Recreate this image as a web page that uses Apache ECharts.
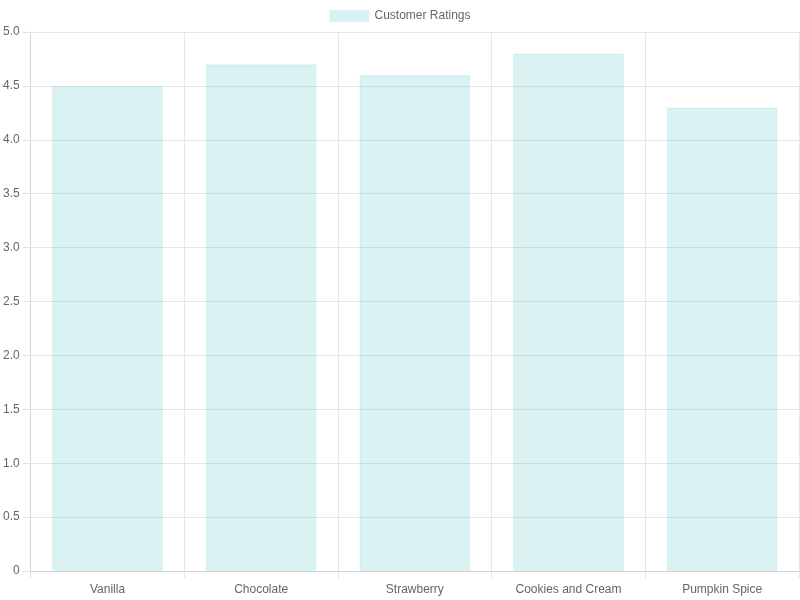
<!DOCTYPE html>
<html>
<head>
<meta charset="utf-8"/>
<title>Customer Ratings</title>
<script src="https://cdn.jsdelivr.net/npm/echarts@6/dist/echarts.min.js"></script>
<style>
html,body{margin:0;padding:0;background:#fff;}
#main{width:800px;height:600px;}
</style>
</head>
<body>
<div id="main"></div>
<script type="text/javascript">
var flavors = ['Vanilla', 'Chocolate', 'Strawberry', 'Cookies and Cream', 'Pumpkin Spice'];
var ratings = [4.5, 4.7, 4.6, 4.8, 4.3];

var myChart = echarts.init(document.getElementById('main'));
var font = 'Liberation Sans, Arial, sans-serif';
var option = {
    animation: false,
    textStyle: { fontFamily: font },
    legend: {
        top: 10,
        left: 'center',
        padding: 0,
        icon: 'rect',
        itemWidth: 40,
        itemHeight: 12,
        itemGap: 10,
        itemStyle: { borderWidth: 0 },
        textStyle: { color: '#666', fontSize: 12, fontFamily: font },
        data: ['Customer Ratings']
    },
    grid: {
        left: 30,
        right: 1,
        top: 32,
        bottom: 29,
        containLabel: false
    },
    xAxis: {
        type: 'category',
        data: flavors,
        axisLine: { lineStyle: { color: '#d4d4d4' } },
        axisTick: { show: true, length: 7, lineStyle: { color: '#e3e3e3' } },
        axisLabel: { color: '#666', fontSize: 12, margin: 13, fontFamily: font },
        splitLine: { show: true, lineStyle: { color: '#e6e6e6' } }
    },
    yAxis: {
        type: 'value',
        min: 0,
        max: 5,
        interval: 0.5,
        axisLine: { show: true, lineStyle: { color: '#d4d4d4' } },
        axisTick: { show: true, length: 8, lineStyle: { color: '#e3e3e3' } },
        axisLabel: {
            color: '#666', fontSize: 12, margin: 11, fontFamily: font,
            formatter: function (v) { return v === 0 ? '0' : v.toFixed(1); }
        },
        splitLine: { show: true, lineStyle: { color: '#e6e6e6' } }
    },
    series: [
        {
            name: 'Customer Ratings',
            type: 'bar',
            data: ratings,
            barCategoryGap: '28%',
            itemStyle: {
                color: 'rgba(75,192,192,0.2)',
                borderColor: 'rgba(75,192,192,0.12)',
                borderWidth: 1
            }
        }
    ]
};
myChart.setOption(option);
window.onresize = function () { myChart.resize(); };
</script>
</body>
</html>
